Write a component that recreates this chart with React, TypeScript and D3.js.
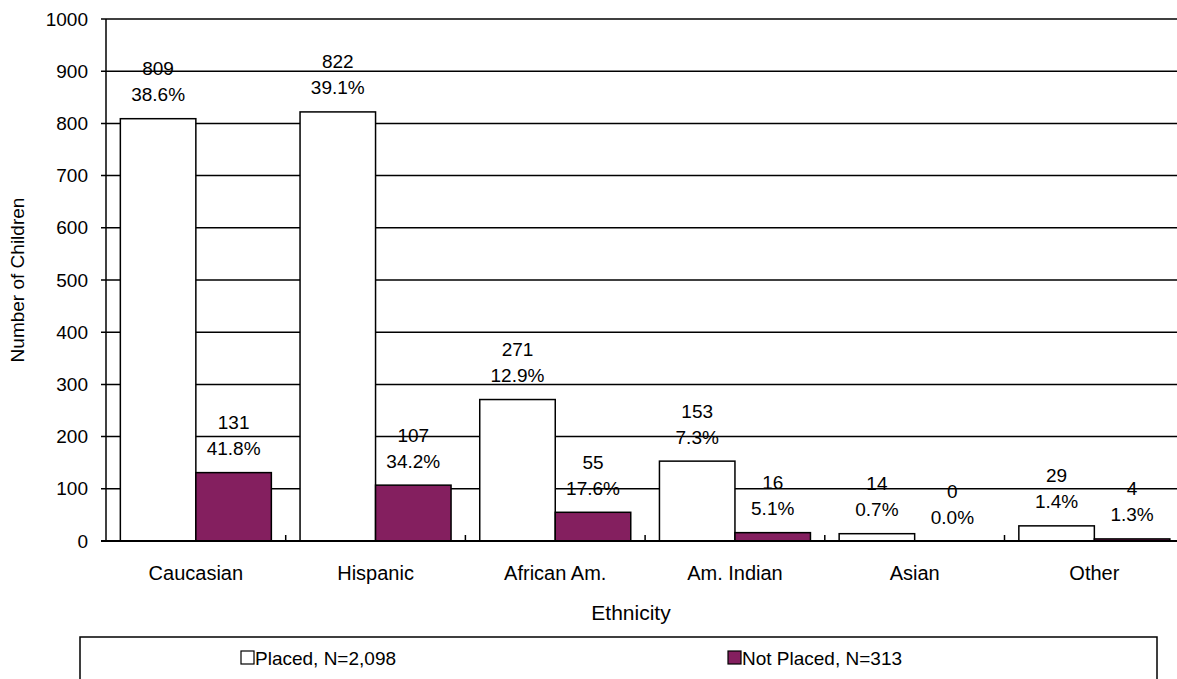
import React from "react";
import * as d3 from "d3";

const categories = ["Caucasian", "Hispanic", "African Am.", "Am. Indian", "Asian", "Other"];
const seriesNames = ["Placed, N=2,098", "Not Placed, N=313"];
const placedValues = [809, 822, 271, 153, 14, 29];
const notPlacedValues = [131, 107, 55, 16, 0, 4];
const placedPct = ["38.6%", "39.1%", "12.9%", "7.3%", "0.7%", "1.4%"];
const notPlacedPct = ["41.8%", "34.2%", "17.6%", "5.1%", "0.0%", "1.3%"];
const yTicks = [0, 100, 200, 300, 400, 500, 600, 700, 800, 900, 1000];

const W = 1177;
const H = 679;
const FONT = "'Liberation Sans', Arial, sans-serif";
const PURPLE = "#841F5F";

export default function App() {
  const left = 106;
  const top = 19;
  const bottom = 541;
  const bandStep = 179.7;

  const x = d3.scaleBand<string>().domain(categories).range([left, left + bandStep * categories.length]).padding(0);
  const xs = d3.scaleBand<string>().domain(["placed", "notPlaced"]).range([0, x.bandwidth()]).paddingInner(0).paddingOuter(0.19);
  const y = d3.scaleLinear().domain([0, 1000]).range([bottom, top]);

  const series = [
    { key: "placed", values: placedValues, pct: placedPct, fill: "#FFFFFF" },
    { key: "notPlaced", values: notPlacedValues, pct: notPlacedPct, fill: PURPLE },
  ];

  const fs = 19;

  return (
    <div style={{ position: "absolute", left: 0, top: 0 }}>
      <svg width={W} height={H} style={{ display: "block", background: "#fff" }} fontFamily={FONT}>
        {yTicks.map((t) => (
          <line key={"g" + t} x1={left - 5} x2={W} y1={y(t)} y2={y(t)} stroke="#000" strokeWidth={1.5} />
        ))}
        {yTicks.map((t) => (
          <text key={"yt" + t} x={88} y={y(t)} textAnchor="end" dominantBaseline="central" fontSize={fs}>
            {t}
          </text>
        ))}
        {series.map((s) =>
          categories.map((c, i) => {
            const bx = (x(c) as number) + (xs(s.key) as number);
            const by = y(s.values[i]);
            return (
              <rect
                key={s.key + c}
                x={bx}
                y={by}
                width={xs.bandwidth()}
                height={bottom - by}
                fill={s.fill}
                stroke="#000"
                strokeWidth={1.5}
              />
            );
          })
        )}
        <line x1={left} x2={left} y1={top} y2={bottom} stroke="#000" strokeWidth={1.5} />
        <line x1={left - 5} x2={W} y1={bottom} y2={bottom} stroke="#000" strokeWidth={2} />
        {categories.map((c) => (
          <line
            key={"xt" + c}
            x1={(x(c) as number) + x.bandwidth()}
            x2={(x(c) as number) + x.bandwidth()}
            y1={bottom}
            y2={bottom - 6}
            stroke="#000"
            strokeWidth={1.5}
          />
        ))}
        {series.map((s) =>
          categories.map((c, i) => {
            const cx = (x(c) as number) + (xs(s.key) as number) + xs.bandwidth() / 2;
            const by = y(s.values[i]);
            return (
              <g key={"l" + s.key + c}>
                <text x={cx} y={by - 50} textAnchor="middle" dominantBaseline="central" fontSize={fs}>
                  {s.values[i]}
                </text>
                <text x={cx} y={by - 24} textAnchor="middle" dominantBaseline="central" fontSize={fs}>
                  {s.pct[i]}
                </text>
              </g>
            );
          })
        )}
        {categories.map((c) => (
          <text
            key={"cl" + c}
            x={(x(c) as number) + x.bandwidth() / 2}
            y={573}
            textAnchor="middle"
            dominantBaseline="central"
            fontSize={20}
          >
            {c}
          </text>
        ))}
        <text x={631} y={612} textAnchor="middle" dominantBaseline="central" fontSize={21}>
          Ethnicity
        </text>
        <text
          transform={`translate(17,${(top + bottom) / 2}) rotate(-90)`}
          textAnchor="middle"
          dominantBaseline="central"
          fontSize={fs}
        >
          Number of Children
        </text>
        <rect x={80} y={637} width={1077} height={60} fill="#fff" stroke="#000" strokeWidth={1.5} />
        {series.map((s, i) => {
          const lx = i === 0 ? 241 : 728;
          return (
            <g key={"lg" + s.key}>
              <rect x={lx} y={651} width={13} height={13} fill={s.fill} stroke="#000" strokeWidth={1.2} />
              <text x={lx + 14} y={658} dominantBaseline="central" fontSize={fs}>
                {seriesNames[i]}
              </text>
            </g>
          );
        })}
      </svg>
    </div>
  );
}
